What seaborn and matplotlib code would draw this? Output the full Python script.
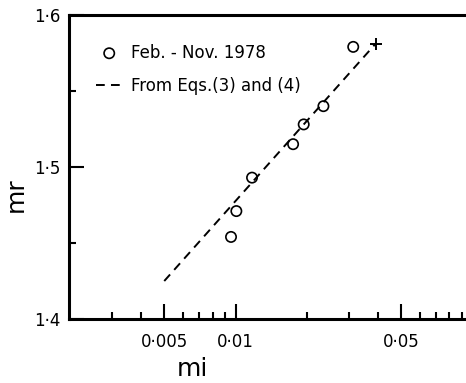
import matplotlib
matplotlib.use("Agg")
import matplotlib.pyplot as plt
from matplotlib.ticker import FixedLocator, FixedFormatter, NullFormatter
import seaborn as sns
import pandas as pd

# Observed refractive index pairs (imaginary part, real part)
obs_mi = [0.00957, 0.01008, 0.01174, 0.0175, 0.0194, 0.0235, 0.0314]
obs_mr = [1.454, 1.471, 1.493, 1.515, 1.528, 1.540, 1.579]

# Relation derived from Eqs. (3) and (4)
eq_mi = [0.005, 0.039]
eq_mr = [1.425, 1.581]

# End point of the relation
end_mi = [0.039]
end_mr = [1.581]

x_major = [0.005, 0.01, 0.05]
x_major_labels = ["0·005", "0·01", "0·05"]
x_minor = [0.003, 0.004, 0.006, 0.007, 0.008, 0.009,
           0.02, 0.03, 0.04, 0.06, 0.07, 0.08, 0.09]
y_major = [1.4, 1.5, 1.6]
y_major_labels = ["1·4", "1·5", "1·6"]
y_minor = [1.45, 1.55]

sns.set_theme(style="white")
plt.rcParams["font.family"] = ["DejaVu Sans"]
plt.rcParams["text.color"] = "black"
plt.rcParams["axes.labelcolor"] = "black"

obs = pd.DataFrame({"mi": obs_mi, "mr": obs_mr})
eq = pd.DataFrame({"mi": eq_mi, "mr": eq_mr})

fig = plt.figure(figsize=(4.66, 3.83), dpi=100)
ax = fig.add_axes([0.148, 0.167, 0.852, 0.794])
ax.set_xscale("log")

sns.lineplot(data=eq, x="mi", y="mr", ax=ax, color="black", lw=1.4,
             linestyle=(0, (4.5, 3.2)), label="From Eqs.(3) and (4)")
sns.scatterplot(data=obs, x="mi", y="mr", ax=ax, marker="o",
                s=55, facecolor="none", edgecolor="black", linewidth=1.2,
                label="Feb. - Nov. 1978", zorder=3)
ax.plot(end_mi, end_mr, marker="+", color="black", ms=9, mew=1.4,
        linestyle="none")

ax.set_xlim(0.00198, 0.094)
ax.set_ylim(1.4, 1.6)

ax.xaxis.set_major_locator(FixedLocator(x_major))
ax.xaxis.set_major_formatter(FixedFormatter(x_major_labels))
ax.xaxis.set_minor_locator(FixedLocator(x_minor))
ax.xaxis.set_minor_formatter(NullFormatter())
ax.yaxis.set_major_locator(FixedLocator(y_major))
ax.yaxis.set_major_formatter(FixedFormatter(y_major_labels))
ax.yaxis.set_minor_locator(FixedLocator(y_minor))

ax.tick_params(which="major", direction="in", length=11, width=1.5,
               labelsize=12, color="black", labelcolor="black")
ax.tick_params(which="minor", direction="in", length=5, width=1.5,
               color="black")
ax.tick_params(axis="x", which="both", bottom=True, top=False, pad=10)
ax.tick_params(axis="y", which="both", left=True, right=False, pad=6)

for side in ("left", "bottom", "top"):
    ax.spines[side].set_linewidth(2.2)
    ax.spines[side].set_color("black")
ax.spines["right"].set_visible(False)

ax.set_xlabel("mi", fontsize=18, color="black")
ax.set_ylabel("mr", fontsize=18, color="black")
ax.xaxis.set_label_coords(0.31, -0.125)
ax.yaxis.set_label_coords(-0.105, 0.41)

handles, labels = ax.get_legend_handles_labels()
order = [1, 0]
leg = ax.legend([handles[i] for i in order], [labels[i] for i in order],
                loc="upper left", bbox_to_anchor=(0.03, 0.955),
                frameon=False, fontsize=12, handlelength=1.6,
                handletextpad=0.5, labelspacing=0.9)
for t in leg.get_texts():
    t.set_color("black")

fig.savefig("out.png", dpi=100, facecolor="white")
